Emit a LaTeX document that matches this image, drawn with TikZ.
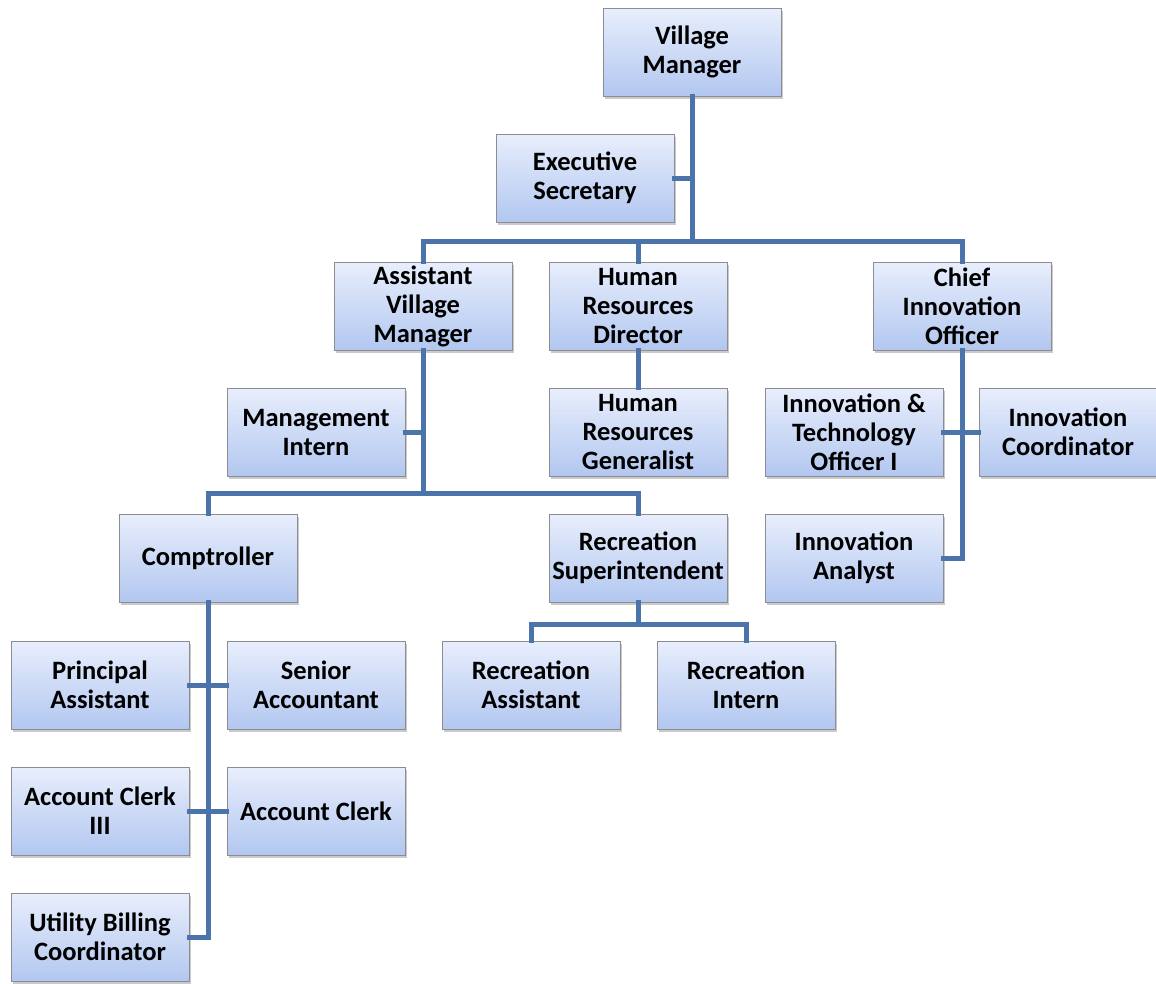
\documentclass[tikz,border=0pt]{standalone}
\usepackage{fontspec}
\setmainfont{Carlito}
\usetikzlibrary{shadows}
\definecolor{linkblue}{RGB}{74,116,170}
\definecolor{boxtop}{RGB}{232,238,252}
\definecolor{boxbot}{RGB}{178,199,240}
\definecolor{boxedge}{RGB}{140,140,145}
\tikzset{
  box/.style={draw=boxedge, line width=0.8pt, top color=boxtop, bottom color=boxbot,
    minimum width=178, minimum height=88, inner sep=0pt, text width=176,
    align=flush center, font=\fontsize{26.5}{29}\selectfont\bfseries,
    drop shadow={shadow xshift=2pt, shadow yshift=-3pt, opacity=0.35, fill=black!60}},
  conn/.style={draw=linkblue, line width=5pt, line join=miter, line cap=rect}
}
\begin{document}
\begin{tikzpicture}[x=1pt, y=-1pt]
\useasboundingbox (0,0) rectangle (1156,983);

% bus junctions
\coordinate (topbus) at (692,241);
\coordinate (avmbus) at (423,493);
\coordinate (rsbus) at (638,624);

% boxes
\node[box] (vm)   at (692,52)  {Village\\Manager};
\node[box] (es)   at (585,178) {Executive\\Secretary};
\node[box] (avm)  at (423,306) {Assistant\\Village\\Manager};
\node[box] (hrd)  at (638,306) {Human\\Resources\\Director};
\node[box] (cio)  at (962,306) {Chief\\Innovation\\Officer};
\node[box] (mi)   at (316,432) {Management\\Intern};
\node[box] (hrg)  at (638,432) {Human\\Resources\\Generalist};
\node[box] (ito)  at (854,432) {Innovation \&\\Technology\\Officer I};
\node[box] (ic)   at (1068,432) {Innovation\\Coordinator};
\node[box] (comp) at (208,558) {Comptroller};
\node[box] (rs)   at (638,558) {Recreation\\Superintendent};
\node[box] (ia)   at (854,558) {Innovation\\Analyst};
\node[box] (pa)   at (100,685) {Principal\\Assistant};
\node[box] (sa)   at (316,685) {Senior\\Accountant};
\node[box] (ra)   at (531,685) {Recreation\\Assistant};
\node[box] (ri)   at (746,685) {Recreation\\Intern};
\node[box] (ac3)  at (100,811) {Account Clerk\\III};
\node[box] (ac)   at (316,811) {Account Clerk};
\node[box] (ubc)  at (100,937) {Utility Billing\\Coordinator};

% village manager branch
\draw[conn] (vm.south) -- (topbus);
\draw[conn] (es.east) -- (es.east -| vm.south);
\draw[conn] (avm.north) |- (topbus) -| (cio.north);
\draw[conn] (hrd.north) -- (hrd.north |- topbus);

% human resources
\draw[conn] (hrd.south) -- (hrg.north);

% assistant village manager branch
\draw[conn] (avm.south) -- (avmbus);
\draw[conn] (mi.east) -- (mi.east -| avm.south);
\draw[conn] (comp.north) |- (avmbus) -| (rs.north);

% chief innovation officer branch
\draw[conn] (cio.south) |- (ia.east);
\draw[conn] (ito.east) -- (ic.west);

% comptroller branch
\draw[conn] (comp.south) |- (ubc.east);
\draw[conn] (pa.east) -- (sa.west);
\draw[conn] (ac3.east) -- (ac.west);

% recreation branch
\draw[conn] (rs.south) -- (rsbus);
\draw[conn] (ra.north) |- (rsbus) -| (ri.north);
\end{tikzpicture}
\end{document}
